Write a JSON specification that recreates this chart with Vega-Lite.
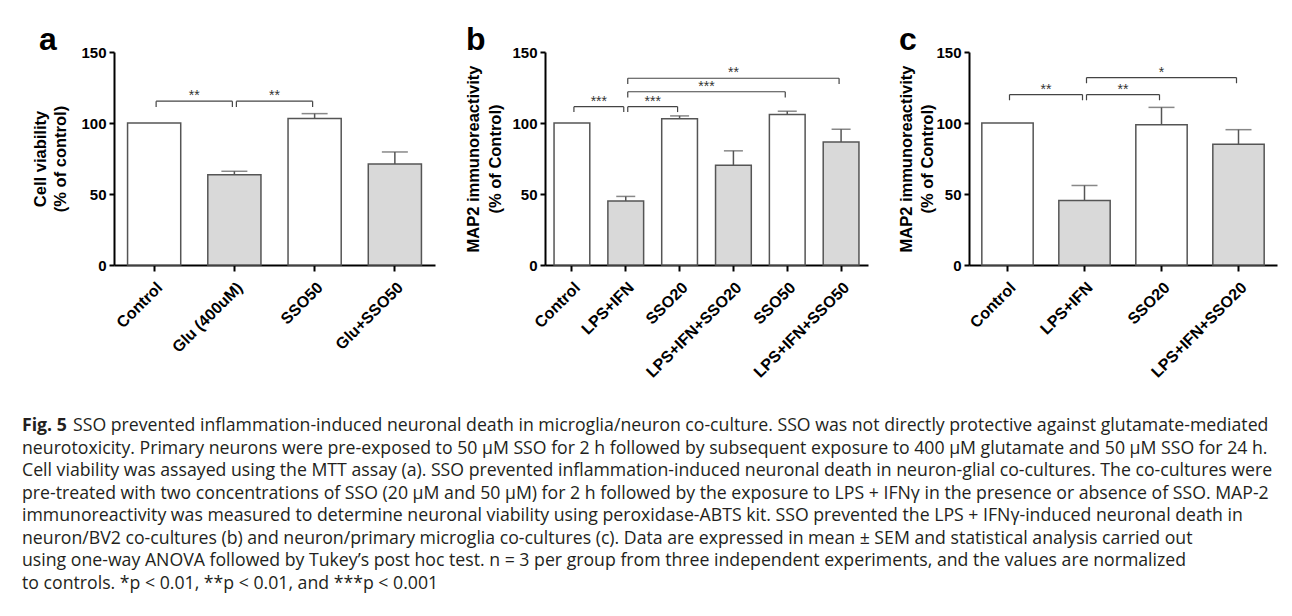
{
  "$schema": "https://vega.github.io/schema/vega-lite/v6.json",
  "background": "white",
  "padding": {"left": 22, "top": 24, "right": 10, "bottom": 0},
  "config": {
    "view": {"stroke": null},
    "font": "Liberation Sans",
    "axis": {"domainColor": "black", "domainWidth": 2, "tickColor": "black", "tickWidth": 2, "tickSize": 5, "labelFont": "Liberation Sans", "labelFontWeight": "bold", "labelFontSize": 15, "labelColor": "black", "titleFont": "Liberation Sans", "titleFontWeight": "bold", "titleFontSize": 16.5, "titleColor": "black", "grid": false, "labelPadding": 3},
    "axisX": {"tickSize": 6, "labelAngle": -45, "labelPadding": 8, "labelFontSize": 16, "title": null},
    "title": {"font": "Liberation Sans", "fontSize": 32, "fontWeight": "bold", "color": "black", "anchor": "start", "frame": "bounds", "offset": 0}
  },
  "vconcat": [
    {
      "spacing": 30,
      "hconcat": [
        {
          "title": {"text": "a", "dx": 6, "dy": 16},
          "width": 321, "height": 213,
          "layer": [
            {
              "data": {"values": [
                {"group": "Control", "mean": 100, "upper": null, "insult": "none"},
                {"group": "Glu (400uM)", "mean": 63.6, "upper": 66, "insult": "treated"},
                {"group": "SSO50", "mean": 103.1, "upper": 106.6, "insult": "none"},
                {"group": "Glu+SSO50", "mean": 71.1, "upper": 79.6, "insult": "treated"}
              ]},
              "layer": [
                {"mark": {"type": "bar", "stroke": "#555", "strokeWidth": 1.5},
                 "encoding": {
                   "x": {"field": "group", "type": "nominal", "sort": null, "scale": {"paddingInner": 0.3375, "paddingOuter": 0.169}},
                   "y": {"field": "mean", "type": "quantitative", "scale": {"domain": [0, 150], "nice": false}, "title": ["Cell viability", "(% of control)"], "axis": {"values": [0, 50, 100, 150], "titlePadding": 12, "titleLineHeight": 20}},
                   "fill": {"field": "insult", "type": "nominal", "scale": {"domain": ["none", "treated"], "range": ["white", "#d9d9d9"]}, "legend": null}
                 }},
                {"mark": {"type": "rule", "color": "#555", "strokeWidth": 1.5},
                 "encoding": {"x": {"field": "group", "type": "nominal", "sort": null}, "y": {"field": "mean", "type": "quantitative", "title": ["Cell viability", "(% of control)"]}, "y2": {"field": "upper"}}},
                {"mark": {"type": "tick", "color": "#555", "thickness": 1.5, "size": 26},
                 "encoding": {"x": {"field": "group", "type": "nominal", "sort": null}, "y": {"field": "upper", "type": "quantitative", "title": ["Cell viability", "(% of control)"]}}}
              ]
            },
            {
              "data": {"values": [
                {"from": 0, "to": 1, "mid": 0.5, "top": 115.4, "low": 111.2, "stars": "**"},
                {"from": 1, "to": 2, "mid": 1.5, "top": 115.4, "low": 111.2, "stars": "**"}
              ]},
              "layer": [
                {"mark": {"type": "rule", "color": "#444", "strokeWidth": 1.2, "xOffset": 2, "x2Offset": -2},
                 "encoding": {"x": {"field": "from", "type": "quantitative", "scale": {"domain": [-0.5, 3.5]}, "axis": null}, "x2": {"field": "to"}, "y": {"field": "top", "type": "quantitative", "scale": {"domain": [0, 150]}, "title": ["Cell viability", "(% of control)"]}}},
                {"mark": {"type": "rule", "color": "#444", "strokeWidth": 1.2, "xOffset": 2},
                 "encoding": {"x": {"field": "from", "type": "quantitative", "axis": null}, "y": {"field": "top", "type": "quantitative", "title": ["Cell viability", "(% of control)"]}, "y2": {"field": "low"}}},
                {"mark": {"type": "rule", "color": "#444", "strokeWidth": 1.2, "xOffset": -2},
                 "encoding": {"x": {"field": "to", "type": "quantitative", "axis": null}, "y": {"field": "top", "type": "quantitative", "title": ["Cell viability", "(% of control)"]}, "y2": {"field": "low"}}},
                {"mark": {"type": "text", "fontSize": 14, "color": "#333", "baseline": "alphabetic", "dy": -1},
                 "encoding": {"x": {"field": "mid", "type": "quantitative", "axis": null}, "y": {"field": "top", "type": "quantitative", "title": ["Cell viability", "(% of control)"]}, "text": {"field": "stars"}}}
              ]
            }
          ],
          "resolve": {"scale": {"x": "independent"}}
        },
        {
          "title": {"text": "b", "dy": 16},
          "width": 323, "height": 213,
          "layer": [
            {
              "data": {"values": [
                {"group": "Control", "mean": 100, "upper": null, "insult": "none"},
                {"group": "LPS+IFN", "mean": 45, "upper": 48.3, "insult": "treated"},
                {"group": "SSO20", "mean": 103, "upper": 105, "insult": "none"},
                {"group": "LPS+IFN+SSO20", "mean": 70.3, "upper": 80.4, "insult": "treated"},
                {"group": "SSO50", "mean": 106, "upper": 108.3, "insult": "none"},
                {"group": "LPS+IFN+SSO50", "mean": 86.7, "upper": 95.6, "insult": "treated"}
              ]},
              "layer": [
                {"mark": {"type": "bar", "stroke": "#555", "strokeWidth": 1.5},
                 "encoding": {
                   "x": {"field": "group", "type": "nominal", "sort": null, "scale": {"paddingInner": 0.336, "paddingOuter": 0.168}},
                   "y": {"field": "mean", "type": "quantitative", "scale": {"domain": [0, 150], "nice": false}, "title": ["MAP2 immunoreactivity", "(% of Control)"], "axis": {"values": [0, 50, 100, 150], "titlePadding": 8, "titleLineHeight": 22}},
                   "fill": {"field": "insult", "type": "nominal", "scale": {"domain": ["none", "treated"], "range": ["white", "#d9d9d9"]}, "legend": null}
                 }},
                {"mark": {"type": "rule", "color": "#555", "strokeWidth": 1.5},
                 "encoding": {"x": {"field": "group", "type": "nominal", "sort": null}, "y": {"field": "mean", "type": "quantitative", "title": ["MAP2 immunoreactivity", "(% of Control)"]}, "y2": {"field": "upper"}}},
                {"mark": {"type": "tick", "color": "#555", "thickness": 1.5, "size": 19},
                 "encoding": {"x": {"field": "group", "type": "nominal", "sort": null}, "y": {"field": "upper", "type": "quantitative", "title": ["MAP2 immunoreactivity", "(% of Control)"]}}}
              ]
            },
            {
              "data": {"values": [
                {"from": 0, "to": 1, "mid": 0.5, "top": 111.5, "low": 107.7, "stars": "***"},
                {"from": 1, "to": 2, "mid": 1.5, "top": 111.5, "low": 107.7, "stars": "***"},
                {"from": 1, "to": 4, "mid": 2.5, "top": 122, "low": 118, "stars": "***"},
                {"from": 1, "to": 5, "mid": 3, "top": 131.5, "low": 127.5, "stars": "**"}
              ]},
              "layer": [
                {"mark": {"type": "rule", "color": "#444", "strokeWidth": 1.2, "xOffset": 2, "x2Offset": -2},
                 "encoding": {"x": {"field": "from", "type": "quantitative", "scale": {"domain": [-0.5, 5.5]}, "axis": null}, "x2": {"field": "to"}, "y": {"field": "top", "type": "quantitative", "scale": {"domain": [0, 150]}, "title": ["MAP2 immunoreactivity", "(% of Control)"]}}},
                {"mark": {"type": "rule", "color": "#444", "strokeWidth": 1.2, "xOffset": 2},
                 "encoding": {"x": {"field": "from", "type": "quantitative", "axis": null}, "y": {"field": "top", "type": "quantitative", "title": ["MAP2 immunoreactivity", "(% of Control)"]}, "y2": {"field": "low"}}},
                {"mark": {"type": "rule", "color": "#444", "strokeWidth": 1.2, "xOffset": -2},
                 "encoding": {"x": {"field": "to", "type": "quantitative", "axis": null}, "y": {"field": "top", "type": "quantitative", "title": ["MAP2 immunoreactivity", "(% of Control)"]}, "y2": {"field": "low"}}},
                {"mark": {"type": "text", "fontSize": 14, "color": "#333", "baseline": "alphabetic", "dy": -1},
                 "encoding": {"x": {"field": "mid", "type": "quantitative", "axis": null}, "y": {"field": "top", "type": "quantitative", "title": ["MAP2 immunoreactivity", "(% of Control)"]}, "text": {"field": "stars"}}}
              ]
            }
          ],
          "resolve": {"scale": {"x": "independent"}}
        },
        {
          "title": {"text": "c", "dy": 16},
          "width": 308, "height": 213,
          "layer": [
            {
              "data": {"values": [
                {"group": "Control", "mean": 100, "upper": null, "insult": "none"},
                {"group": "LPS+IFN", "mean": 45.5, "upper": 56, "insult": "treated"},
                {"group": "SSO20", "mean": 98.8, "upper": 111, "insult": "none"},
                {"group": "LPS+IFN+SSO20", "mean": 85, "upper": 95.3, "insult": "treated"}
              ]},
              "layer": [
                {"mark": {"type": "bar", "stroke": "#555", "strokeWidth": 1.5},
                 "encoding": {
                   "x": {"field": "group", "type": "nominal", "sort": null, "scale": {"paddingInner": 0.333, "paddingOuter": 0.1665}},
                   "y": {"field": "mean", "type": "quantitative", "scale": {"domain": [0, 150], "nice": false}, "title": ["MAP2 immunoreactivity", "(% of Control)"], "axis": {"values": [0, 50, 100, 150], "titlePadding": 0, "titleLineHeight": 21}},
                   "fill": {"field": "insult", "type": "nominal", "scale": {"domain": ["none", "treated"], "range": ["white", "#d9d9d9"]}, "legend": null}
                 }},
                {"mark": {"type": "rule", "color": "#555", "strokeWidth": 1.5},
                 "encoding": {"x": {"field": "group", "type": "nominal", "sort": null}, "y": {"field": "mean", "type": "quantitative", "title": ["MAP2 immunoreactivity", "(% of Control)"]}, "y2": {"field": "upper"}}},
                {"mark": {"type": "tick", "color": "#555", "thickness": 1.5, "size": 26},
                 "encoding": {"x": {"field": "group", "type": "nominal", "sort": null}, "y": {"field": "upper", "type": "quantitative", "title": ["MAP2 immunoreactivity", "(% of Control)"]}}}
              ]
            },
            {
              "data": {"values": [
                {"from": 0, "to": 1, "mid": 0.5, "top": 120, "low": 116, "stars": "**"},
                {"from": 1, "to": 2, "mid": 1.5, "top": 120, "low": 116, "stars": "**"},
                {"from": 1, "to": 3, "mid": 2, "top": 132, "low": 128, "stars": "*"}
              ]},
              "layer": [
                {"mark": {"type": "rule", "color": "#444", "strokeWidth": 1.2, "xOffset": 2, "x2Offset": -2},
                 "encoding": {"x": {"field": "from", "type": "quantitative", "scale": {"domain": [-0.5, 3.5]}, "axis": null}, "x2": {"field": "to"}, "y": {"field": "top", "type": "quantitative", "scale": {"domain": [0, 150]}, "title": ["MAP2 immunoreactivity", "(% of Control)"]}}},
                {"mark": {"type": "rule", "color": "#444", "strokeWidth": 1.2, "xOffset": 2},
                 "encoding": {"x": {"field": "from", "type": "quantitative", "axis": null}, "y": {"field": "top", "type": "quantitative", "title": ["MAP2 immunoreactivity", "(% of Control)"]}, "y2": {"field": "low"}}},
                {"mark": {"type": "rule", "color": "#444", "strokeWidth": 1.2, "xOffset": -2},
                 "encoding": {"x": {"field": "to", "type": "quantitative", "axis": null}, "y": {"field": "top", "type": "quantitative", "title": ["MAP2 immunoreactivity", "(% of Control)"]}, "y2": {"field": "low"}}},
                {"mark": {"type": "text", "fontSize": 14, "color": "#333", "baseline": "alphabetic", "dy": -1},
                 "encoding": {"x": {"field": "mid", "type": "quantitative", "axis": null}, "y": {"field": "top", "type": "quantitative", "title": ["MAP2 immunoreactivity", "(% of Control)"]}, "text": {"field": "stars"}}}
              ]
            }
          ],
          "resolve": {"scale": {"x": "independent"}}
        }
      ]
    },
    {
      "width": 1250, "height": 180,
      "data": {"values": [
        {"line": 1, "part": "bold", "text": "Fig. 5"},
        {"line": 1, "part": "first", "text": "SSO prevented inflammation-induced neuronal death in microglia/neuron co-culture. SSO was not directly protective against glutamate-mediated"},
        {"line": 2, "part": "body", "text": "neurotoxicity. Primary neurons were pre-exposed to 50 μM SSO for 2 h followed by subsequent exposure to 400 μM glutamate and 50 μM SSO for 24 h."},
        {"line": 3, "part": "body", "text": "Cell viability was assayed using the MTT assay (a). SSO prevented inflammation-induced neuronal death in neuron-glial co-cultures. The co-cultures were"},
        {"line": 4, "part": "body", "text": "pre-treated with two concentrations of SSO (20 μM and 50 μM) for 2 h followed by the exposure to LPS + IFNγ in the presence or absence of SSO. MAP-2"},
        {"line": 5, "part": "body", "text": "immunoreactivity was measured to determine neuronal viability using peroxidase-ABTS kit. SSO prevented the LPS + IFNγ-induced neuronal death in"},
        {"line": 6, "part": "body", "text": "neuron/BV2 co-cultures (b) and neuron/primary microglia co-cultures (c). Data are expressed in mean ± SEM and statistical analysis carried out"},
        {"line": 7, "part": "body", "text": "using one-way ANOVA followed by Tukey’s post hoc test. n = 3 per group from three independent experiments, and the values are normalized"},
        {"line": 8, "part": "body", "text": "to controls. *p < 0.01, **p < 0.01, and ***p < 0.001"}
      ]},
      "encoding": {
        "y": {"field": "line", "type": "ordinal", "axis": null},
        "x": {"datum": 0, "type": "quantitative", "scale": {"domain": [0, 1]}, "axis": null},
        "text": {"field": "text"}
      },
      "layer": [
        {"transform": [{"filter": "datum.part === 'body'"}], "mark": {"type": "text", "align": "left", "font": "Open Sans", "fontSize": 17.7, "color": "#231f20", "dx": -92}},
        {"transform": [{"filter": "datum.part === 'bold'"}], "mark": {"type": "text", "align": "left", "font": "Open Sans", "fontWeight": "bold", "fontSize": 17.7, "color": "#231f20", "dx": -92}},
        {"transform": [{"filter": "datum.part === 'first'"}], "mark": {"type": "text", "align": "left", "font": "Open Sans", "fontSize": 17.7, "color": "#231f20", "dx": -41}}
      ]
    }
  ],
  "spacing": 34
}
